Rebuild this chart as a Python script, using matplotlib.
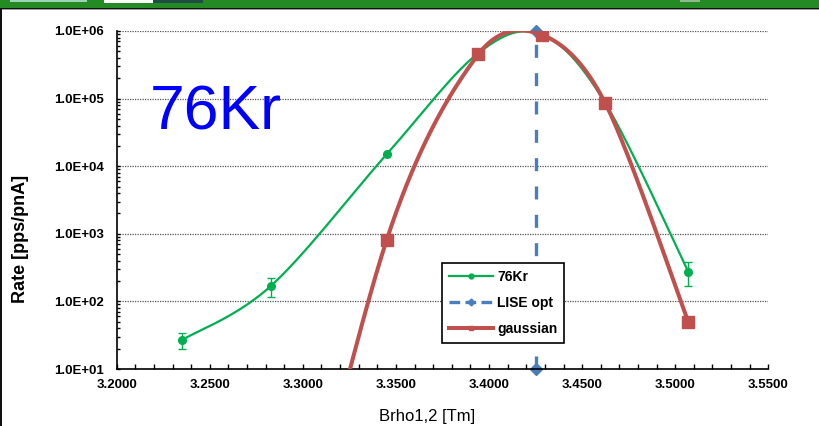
import numpy as np
import matplotlib
matplotlib.use("Agg")
import matplotlib.pyplot as plt
from matplotlib.patches import Rectangle
from matplotlib.lines import Line2D
from matplotlib.ticker import MultipleLocator, FuncFormatter, LogLocator

plt.rcParams['font.family'] = ['Liberation Sans', 'DejaVu Sans']

# Measured rates of 76Kr versus Brho1,2
brho_kr = [3.2352, 3.2829, 3.3450, 3.3942, 3.4283, 3.4623, 3.5070]
rate_kr = [27, 170, 1.5e4, 4.7e5, 8.8e5, 8.7e4, 275]
# error bars (only the points with visible uncertainty)
err_idx = [0, 1, 6]
err_low = [19.5, 117, 171]
err_high = [34, 224, 387]

# Gaussian model evaluated at the same Brho settings
brho_gauss = [3.2829, 3.3450, 3.3942, 3.4283, 3.4623, 3.5070]
rate_gauss = [2e-4, 810, 4.5e5, 8.8e5, 8.7e4, 50]

# LISE optimum setting
lise_opt = 3.4251
lise_span = [10, 1e6]

W, H = 819, 426
fig = plt.figure(figsize=(W / 100, H / 100), dpi=100)
fig.patch.set_facecolor('white')

# window chrome around the chart
def band(x, y, w, h, color):
    fig.add_artist(Rectangle((x / W, 1 - (y + h) / H), w / W, h / H,
                             transform=fig.transFigure, facecolor=color, edgecolor='none'))

band(0, 0, W, 8, '#248a24')
band(10, 0, 77, 1.5, '#9fd3b8')
band(104, 0, 49, 2.5, 'white')
band(153, 0, 50, 3, '#1d4d45')
band(680, 0, 20, 2, '#8fb88f')
band(0, 8, W, 1.3, '#111111')
band(0, 9.3, W, 0.8, '#9a9a9a')
band(0, 9, 1.6, H - 9, '#111111')

x0, x1, yt, yb = 116.7, 768.3, 31.0, 369.0
ax = fig.add_axes([x0 / W, 1 - yb / H, (x1 - x0) / W, (yb - yt) / H])
ax.set_yscale('log')
ax.set_xlim(3.2, 3.55)
ax.set_ylim(10, 1e6)

for s in ('top', 'right'):
    ax.spines[s].set_visible(False)
for s in ('left', 'bottom'):
    ax.spines[s].set_linewidth(1.2)
    ax.spines[s].set_color('black')

ax.xaxis.set_major_locator(MultipleLocator(0.05))
ax.xaxis.set_minor_locator(MultipleLocator(0.01))
ax.xaxis.set_major_formatter(FuncFormatter(lambda v, p: f"{v:.4f}"))
ax.yaxis.set_major_locator(LogLocator(base=10, numticks=10))
ax.yaxis.set_minor_locator(LogLocator(base=10, subs=np.arange(2, 10), numticks=20))
ax.yaxis.set_major_formatter(FuncFormatter(lambda v, p: f"{v:.1E}"))
ax.yaxis.set_minor_formatter(FuncFormatter(lambda v, p: ""))

ax.tick_params(axis='x', which='both', direction='in', length=3.5, width=1.0,
               pad=7.5, labelsize=9.5)
ax.tick_params(axis='y', which='both', direction='in', length=2.3, width=1.0,
               pad=9, labelsize=9.5)
for lab in ax.get_xticklabels() + ax.get_yticklabels():
    lab.set_fontweight('bold')

ax.yaxis.grid(True, which='major', color='#555555', linestyle=(0, (1, 1)), linewidth=0.9)
ax.set_axisbelow(True)


def smooth(ax, xs, ys, n=40):
    """Bezier smoothing in display space, control arms limited to half a segment."""
    pts = ax.transData.transform(np.column_stack([xs, ys]))
    m = len(pts)
    out = [pts[0]]
    t = np.linspace(0, 1, n)[1:, None]
    for i in range(m - 1):
        p0 = pts[max(i - 1, 0)]
        p1 = pts[i]
        p2 = pts[i + 1]
        p3 = pts[min(i + 2, m - 1)]
        d12 = np.hypot(*(p2 - p1))
        d02 = np.hypot(*(p2 - p0))
        d13 = np.hypot(*(p3 - p1))
        f1 = 1 / 6 if d02 / 6 < d12 / 2 else (d12 / 2) / d02
        f2 = 1 / 6 if d13 / 6 < d12 / 2 else (d12 / 2) / d13
        c1 = p1 + (p2 - p0) * f1
        c2 = p2 - (p3 - p1) * f2
        seg = ((1 - t) ** 3) * p1 + 3 * ((1 - t) ** 2) * t * c1 + 3 * (1 - t) * t ** 2 * c2 + t ** 3 * p2
        out.extend(seg)
    out = np.array(out)
    data = ax.transData.inverted().transform(out)
    return data[:, 0], data[:, 1]


green = '#00b050'
red = '#c0504d'
blue = '#4a7ebb'

# LISE optimum
ax.plot([lise_opt, lise_opt], lise_span, color=blue, lw=2.4,
        linestyle=(0, (3.9, 4.6)), marker='D', markersize=6, clip_on=False, zorder=2)

# 76Kr data
gx, gy = smooth(ax, brho_kr, rate_kr)
ax.plot(gx, gy, color=green, lw=1.6, zorder=3)
ax.plot(brho_kr, rate_kr, 'o', color=green, markersize=5.5, zorder=3)
ex = [brho_kr[i] for i in err_idx]
ey = [rate_kr[i] for i in err_idx]
yerr = [[v - lo for v, lo in zip(ey, err_low)], [hi - v for v, hi in zip(ey, err_high)]]
ax.errorbar(ex, ey, yerr=yerr, fmt='none', ecolor=green, elinewidth=1.0,
            capsize=2.9, capthick=1.0, zorder=3)

# gaussian model
rx, ry = smooth(ax, brho_gauss, rate_gauss)
ax.plot(rx, ry, color=red, lw=2.9, zorder=4)
ax.plot(brho_gauss, rate_gauss, 's', color=red, markersize=8, zorder=4)

handles = [
    Line2D([], [], color=green, lw=1.6, marker='o', markersize=3.5),
    Line2D([], [], color=blue, lw=2.4, linestyle=(0, (3.2, 1.6)), marker='D', markersize=3.5),
    Line2D([], [], color=red, lw=2.9, marker='s', markersize=3.5),
]
leg = ax.legend(handles, ['76Kr', 'LISE opt', 'gaussian'],
                loc='upper left', bbox_to_anchor=(441.7 / W, 1 - 263.3 / H),
                bbox_transform=fig.transFigure, borderaxespad=0,
                prop={'weight': 'bold', 'size': 10}, frameon=True, fancybox=False,
                edgecolor='black', framealpha=1, handlelength=3.2, handletextpad=0.3,
                labelspacing=0.85, borderpad=0.5)
leg.get_frame().set_linewidth(1.2)
leg.set_zorder(6)

fig.text(150 / W, 1 - 130 / H, '76Kr', color='#0000ff', fontsize=45,
         ha='left', va='baseline')
fig.text(21 / W, 1 - 239 / H, 'Rate [pps/pnA]', rotation=90, fontsize=13,
         fontweight='bold', ha='center', va='center')
fig.text(427 / W, 1 - 416 / H, 'Brho1,2 [Tm]', fontsize=12, ha='center', va='center')

fig.savefig('out.png', dpi=100)
